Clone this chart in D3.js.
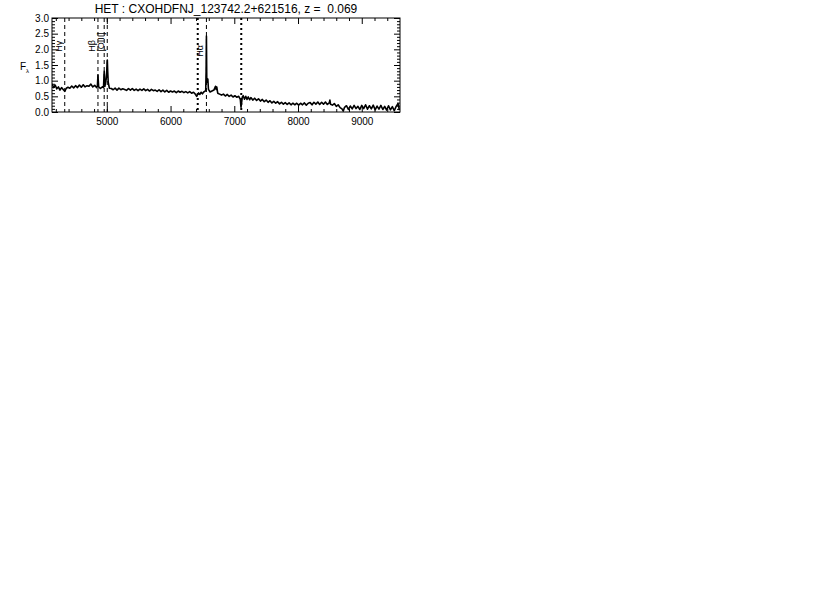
<!DOCTYPE html>
<html lang="en">
<head>
<meta charset="utf-8">
<title>HET spectrum</title>
<script src="https://d3js.org/d3.v7.min.js"></script>
<style type="text/css">
body { margin: 0; background: #fff; }
text { font-family: "Liberation Sans", Helvetica, Arial, sans-serif; fill: #000; }
.tick line { stroke: #000; }
</style>
</head>
<body>
<div id="chart"></div>
<script type="text/javascript">

// title and redshift
var titleText = "HET : CXOHDFNJ_123742.2+621516, z =  0.069";
var z = 0.069;

// rest-frame wavelength (A) and flux
var wave = [4140,4165,4190,4215,4240,4265,4290,4315,4340,4365,4390,
  4420,4450,4480,4510,4540,4570,4600,4630,4660,4690,4720,4750,4780,4810,4840,
  4852,4861,4872,4900,4930,4948,4959,4970,4990,4998,5004,5008,5014,5022,5040,5070,5100,
  5130,5160,5190,5220,5250,5280,5310,5340,5370,5400,5430,5460,5490,5520,5550,5580,5610,
  5640,5670,5700,5730,5760,5790,5820,5850,5880,5910,5940,5970,6000,
  6030,6060,6090,6120,6150,6180,6210,6240,6270,6300,6330,6360,6385,
  6410,6425,6440,6460,6480,6500,6520,6540,6552,6558,6563,6568,6578,6585,6595,
  6620,6650,6680,6705,6715,6725,6740,6770,6800,6830,6860,6890,6920,6950,6980,7010,7040,7070,
  7095,7105,7115,7125,7140,7160,7180,7200,7220,7240,7260,7290,7320,7350,7380,7410,7440,7470,
  7500,7530,7560,7590,7620,7650,7680,7710,7740,7770,7800,7830,7860,7890,7920,7950,7980,
  8010,8040,8070,8100,8130,8160,8190,8220,8250,8280,8310,8340,8370,8400,8430,8460,8490,
  8500,8510,8540,8570,8600,8630,8660,8690,8710,8730,8760,8790,8820,8850,8880,8910,8940,8970,
  9000,9030,9060,9090,9120,9150,9180,9210,9240,9270,9300,9330,9360,9390,9420,9450,9480,
  9510,9540,9570,9590];
var flux = [0.90,0.78,0.86,0.74,0.80,0.70,0.78,0.72,0.66,0.76,0.79,
  0.76,0.83,0.77,0.84,0.78,0.86,0.79,0.87,0.80,0.84,0.82,0.89,0.80,0.85,0.78,
  0.82,1.18,0.80,0.75,0.80,0.78,1.30,0.82,1.05,1.25,1.55,1.66,1.30,0.95,0.76,0.75,0.71,
  0.76,0.70,0.76,0.71,0.74,0.72,0.69,0.75,0.70,0.75,0.69,0.73,0.68,0.73,0.69,0.74,0.68,
  0.72,0.67,0.72,0.68,0.70,0.66,0.71,0.65,0.70,0.64,0.69,0.63,0.67,
  0.64,0.67,0.62,0.67,0.63,0.66,0.62,0.65,0.61,0.65,0.60,0.63,0.58,
  0.50,0.56,0.61,0.56,0.63,0.58,0.64,0.66,0.70,1.30,2.42,1.10,0.95,1.05,0.72,
  0.64,0.67,0.70,0.82,0.72,0.80,0.60,0.57,0.54,0.57,0.51,0.56,0.50,0.54,0.48,0.52,0.47,0.50,
  0.40,0.15,0.30,0.47,0.52,0.41,0.50,0.40,0.48,0.39,0.46,0.38,0.44,0.37,0.42,0.35,0.40,0.33,
  0.38,0.31,0.36,0.29,0.34,0.28,0.33,0.26,0.31,0.25,0.30,0.24,0.29,0.23,0.28,0.23,0.28,
  0.22,0.28,0.23,0.29,0.22,0.28,0.30,0.23,0.31,0.25,0.32,0.24,0.31,0.25,0.32,0.24,0.29,
  0.38,0.25,0.22,0.27,0.18,0.23,0.14,0.10,0.03,0.15,0.20,0.08,0.19,0.10,0.21,0.11,0.18,0.08,
  0.21,0.11,0.23,0.09,0.20,0.10,0.22,0.07,0.19,0.09,0.21,0.08,0.18,0.06,0.20,0.07,0.17,
  0.04,0.18,0.27,0.06];

// emission lines (rest wavelength) and their labels
var lineWave = [4340, 4861, 4959, 5007, 6563];
var lineLabel = ["H\u03b3", "H\u03b2", "", "[OIII]", "H\u03b1"];
var lineLabelY = [1.92, 1.92, 0, 1.92, 1.76];

// telluric bands (observed wavelength)
var telluric = [6870, 7600];

// axis ticks
var xTicks = [5000, 6000, 7000, 8000, 9000];
var yTicks = [0.0, 0.5, 1.0, 1.5, 2.0, 2.5, 3.0];

var W = 830, H = 594;
var pLeft = 52, pRight = 400, pTop = 18, pBottom = 112;

var svg = d3.select("#chart").append("svg")
  .attr("width", W)
  .attr("height", H);

var x = d3.scaleLinear().domain([4140, 9600]).range([pLeft, pRight]);
var y = d3.scaleLinear().domain([0, 3]).range([pBottom, pTop]);

var xMinor = d3.range(4200, 9600, 200).filter(function(d) { return d % 1000 != 0; });
var yMinor = d3.range(0, 31).map(function(d) { return d / 10; }).filter(function(d, i) { return i % 5 != 0; });

function noDomain(g) { g.select(".domain").remove(); }

// bottom axis (major with labels, then minor)
svg.append("g")
  .attr("transform", "translate(0," + pBottom + ")")
  .call(d3.axisBottom(x).tickValues(xTicks).tickSize(-6).tickPadding(6).tickFormat(d3.format("d")))
  .call(noDomain)
  .selectAll("text").style("font-size", "10px");
svg.append("g")
  .attr("transform", "translate(0," + pBottom + ")")
  .call(d3.axisBottom(x).tickValues(xMinor).tickSize(-3).tickFormat(""))
  .call(noDomain);

// top axis
svg.append("g")
  .attr("transform", "translate(0," + pTop + ")")
  .call(d3.axisTop(x).tickValues(xTicks).tickSize(-6).tickFormat(""))
  .call(noDomain);
svg.append("g")
  .attr("transform", "translate(0," + pTop + ")")
  .call(d3.axisTop(x).tickValues(xMinor).tickSize(-3).tickFormat(""))
  .call(noDomain);

// left axis
svg.append("g")
  .attr("transform", "translate(" + pLeft + ",0)")
  .call(d3.axisLeft(y).tickValues(yTicks).tickSize(-6).tickPadding(3).tickFormat(d3.format(".1f")))
  .call(noDomain)
  .selectAll("text").style("font-size", "10px");
svg.append("g")
  .attr("transform", "translate(" + pLeft + ",0)")
  .call(d3.axisLeft(y).tickValues(yMinor).tickSize(-3).tickFormat(""))
  .call(noDomain);

// right axis
svg.append("g")
  .attr("transform", "translate(" + pRight + ",0)")
  .call(d3.axisRight(y).tickValues(yTicks).tickSize(-6).tickFormat(""))
  .call(noDomain);
svg.append("g")
  .attr("transform", "translate(" + pRight + ",0)")
  .call(d3.axisRight(y).tickValues(yMinor).tickSize(-3).tickFormat(""))
  .call(noDomain);

// frame
svg.append("rect")
  .attr("x", pLeft).attr("y", pTop)
  .attr("width", pRight - pLeft).attr("height", pBottom - pTop)
  .attr("fill", "none").attr("stroke", "#000").attr("stroke-width", 1);

// clip for the spectrum
svg.append("clipPath").attr("id", "clip")
  .append("rect").attr("x", pLeft).attr("y", pTop)
  .attr("width", pRight - pLeft).attr("height", pBottom - pTop);

// emission line markers
svg.selectAll("line.em")
  .data(lineWave)
  .enter()
  .append("line")
  .attr("class", "em")
  .attr("x1", function(d) { return x(d); })
  .attr("x2", function(d) { return x(d); })
  .attr("y1", pTop).attr("y2", pBottom)
  .attr("stroke", "#000")
  .attr("stroke-width", 1)
  .attr("stroke-dasharray", "4,3");

// telluric markers
svg.selectAll("line.tel")
  .data(telluric)
  .enter()
  .append("line")
  .attr("class", "tel")
  .attr("x1", function(d) { return x(d / (1 + z)); })
  .attr("x2", function(d) { return x(d / (1 + z)); })
  .attr("y1", pTop).attr("y2", pBottom)
  .attr("stroke", "#000")
  .attr("stroke-width", 2)
  .attr("stroke-dasharray", "2,3");

// spectrum
var pts = wave.map(function(d, i) { return [d, flux[i]]; });
svg.append("path")
  .datum(pts)
  .attr("clip-path", "url(#clip)")
  .attr("fill", "none")
  .attr("stroke", "#000")
  .attr("stroke-width", 1.6)
  .attr("stroke-linejoin", "round")
  .attr("d", d3.line().x(function(d) { return x(d[0]); }).y(function(d) { return y(d[1]); }));

// line labels, rotated
lineWave.forEach(function(d, i) {
  if (!lineLabel[i]) return;
  var lx = x(d) - 3, ly = y(lineLabelY[i]);
  svg.append("text")
    .attr("transform", "translate(" + lx + "," + ly + ") rotate(-90)")
    .style("font-size", "9px")
    .text(lineLabel[i]);
});

// title
svg.append("text")
  .attr("x", (pLeft + pRight) / 2)
  .attr("y", 13)
  .attr("text-anchor", "middle")
  .style("font-size", "12px")
  .style("white-space", "pre")
  .text(titleText);

// y label
var yl = svg.append("text")
  .attr("x", 20)
  .attr("y", 70)
  .style("font-size", "10px")
  .text("F");
yl.append("tspan")
  .attr("dy", 3)
  .style("font-size", "6px")
  .text("\u03bb");

</script>
</body>
</html>
